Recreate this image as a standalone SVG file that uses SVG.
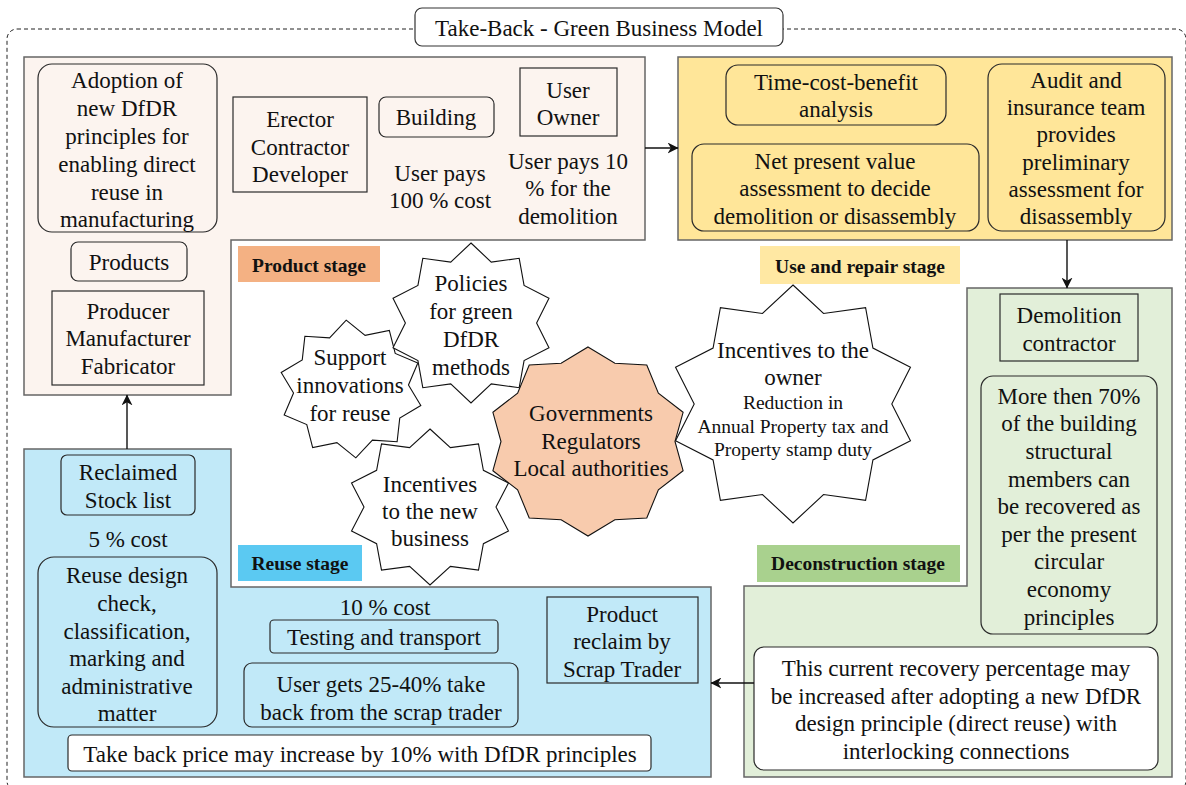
<svg xmlns="http://www.w3.org/2000/svg" width="1186" height="785" viewBox="0 0 1186 785">
  <style>
    .t { font-family: "Liberation Serif", "Times New Roman", serif; font-size: 23px; text-anchor: middle; fill: #111; }
    .s { font-family: "Liberation Serif", "Times New Roman", serif; font-size: 19.5px; text-anchor: middle; fill: #111; }
    .lbl { font-family: "Liberation Serif", "Times New Roman", serif; font-size: 19.5px; font-weight: bold; text-anchor: middle; fill: #111; }
    .stage { stroke: #666; stroke-width: 1.5; }
    .box { fill: none; stroke: #2a2a2a; stroke-width: 1.2; }
    .wbox { fill: #fff; stroke: #2a2a2a; stroke-width: 1.2; }
    .star { fill: #fff; stroke: #111; stroke-width: 1.1; }
    .conn { fill: none; stroke: #111; stroke-width: 1.4; marker-end: url(#arrow); }
  </style>
  <defs>
    <marker id="arrow" viewBox="0 0 10 10" refX="9.5" refY="5" markerWidth="11" markerHeight="11" markerUnits="userSpaceOnUse" orient="auto">
      <path d="M0,0 L10,5 L0,10 L3,5 Z" fill="#111"/>
    </marker>
  </defs>

  <rect width="1186" height="785" fill="#fff"/>

  <!-- outer dashed frame and title -->
  <rect x="7" y="29" width="1179" height="762" rx="10" fill="none" stroke="#222" stroke-width="1" stroke-dasharray="4 3"/>
  <g id="title">
    <rect x="415" y="8" width="368" height="38" rx="7" fill="#fff" stroke="#333" stroke-width="1.2"/>
    <text class="t" x="599" y="36">Take-Back - Green Business Model</text>
  </g>

  <!-- Product stage -->
  <g id="product-stage">
    <path class="stage" fill="#fcf4ef" d="M24,57 H645 V240 H231 V395 H24 Z"/>
    <rect x="238" y="246" width="142" height="36" fill="#f4b183"/>
    <text class="lbl" x="309" y="272">Product stage</text>
  </g>
  <g id="adoption">
    <rect class="box" x="38" y="64" width="179" height="168" rx="14"/>
    <text class="t"><tspan x="127" y="88">Adoption of</tspan><tspan x="127" y="116">new DfDR</tspan><tspan x="127" y="144">principles for</tspan><tspan x="127" y="172">enabling direct</tspan><tspan x="127" y="200">reuse in</tspan><tspan x="127" y="227">manufacturing</tspan></text>
  </g>
  <g id="erector">
    <rect class="box" x="233" y="97" width="134" height="95"/>
    <text class="t"><tspan x="300" y="127">Erector</tspan><tspan x="300" y="155">Contractor</tspan><tspan x="300" y="182">Developer</tspan></text>
  </g>
  <g id="building">
    <rect class="box" x="379" y="97" width="115" height="40" rx="7"/>
    <text class="t" x="436" y="125">Building</text>
    <text class="t"><tspan x="440" y="181">User pays</tspan><tspan x="440" y="208">100 % cost</tspan></text>
  </g>
  <g id="user-owner">
    <rect class="box" x="520" y="68" width="97" height="68"/>
    <text class="t"><tspan x="568" y="98">User</tspan><tspan x="568" y="125">Owner</tspan></text>
    <text class="t"><tspan x="568" y="169">User pays 10</tspan><tspan x="568" y="196">% for the</tspan><tspan x="568" y="224">demolition</tspan></text>
  </g>
  <g id="products">
    <rect class="box" x="71" y="242" width="116" height="39" rx="7"/>
    <text class="t" x="129" y="270">Products</text>
  </g>
  <g id="producer">
    <rect class="box" x="52" y="291" width="152" height="94"/>
    <text class="t"><tspan x="128" y="319">Producer</tspan><tspan x="128" y="346">Manufacturer</tspan><tspan x="128" y="374">Fabricator</tspan></text>
  </g>

  <!-- Use and repair stage -->
  <g id="use-stage">
    <rect class="stage" x="678" y="57" width="494" height="183" fill="#ffe699"/>
    <rect x="760" y="246" width="200" height="38" fill="#ffe8a3"/>
    <text class="lbl" x="860" y="273">Use and repair stage</text>
  </g>
  <g id="time-cost">
    <rect class="box" x="726" y="65" width="220" height="60" rx="12"/>
    <text class="t"><tspan x="836" y="90">Time-cost-benefit</tspan><tspan x="836" y="117">analysis</tspan></text>
  </g>
  <g id="npv">
    <rect class="box" x="692" y="144" width="287" height="87" rx="12"/>
    <text class="t"><tspan x="835" y="169">Net present value</tspan><tspan x="835" y="196">assessment to decide</tspan><tspan x="835" y="224">demolition or disassembly</tspan></text>
  </g>
  <g id="audit">
    <rect class="box" x="988" y="64" width="177" height="167" rx="14"/>
    <text class="t"><tspan x="1076" y="88">Audit and</tspan><tspan x="1076" y="115">insurance team</tspan><tspan x="1076" y="142">provides</tspan><tspan x="1076" y="170">preliminary</tspan><tspan x="1076" y="197">assessment for</tspan><tspan x="1076" y="224">disassembly</tspan></text>
  </g>

  <!-- Deconstruction stage -->
  <g id="deconstruction-stage">
    <path class="stage" fill="#e2efd9" d="M967,288 H1172 V777 H744 V586 H967 Z"/>
    <rect x="757" y="545" width="203" height="37" fill="#a9d18e"/>
    <text class="lbl" x="858" y="570">Deconstruction stage</text>
  </g>
  <g id="demolition">
    <rect class="box" x="1000" y="294" width="138" height="67"/>
    <text class="t"><tspan x="1069" y="323">Demolition</tspan><tspan x="1069" y="351">contractor</tspan></text>
  </g>
  <g id="recovery">
    <rect class="box" x="981" y="376" width="176" height="258" rx="12"/>
    <text class="t"><tspan x="1069" y="404">More then 70%</tspan><tspan x="1069" y="431">of the building</tspan><tspan x="1069" y="459">structural</tspan><tspan x="1069" y="487">members can</tspan><tspan x="1069" y="514">be recovered as</tspan><tspan x="1069" y="542">per the present</tspan><tspan x="1069" y="569">circular</tspan><tspan x="1069" y="597">economy</tspan><tspan x="1069" y="625">principles</tspan></text>
  </g>
  <g id="recovery-note">
    <rect class="wbox" x="754" y="647" width="404" height="123" rx="10"/>
    <text class="t"><tspan x="956" y="676">This current recovery percentage may</tspan><tspan x="956" y="704">be increased after adopting a new DfDR</tspan><tspan x="956" y="731">design principle (direct reuse) with</tspan><tspan x="956" y="759">interlocking connections</tspan></text>
  </g>

  <!-- Reuse stage -->
  <g id="reuse-stage">
    <path class="stage" fill="#c1e9f8" d="M24,449 H231 V587 H711 V777 H24 Z"/>
    <rect x="238" y="545" width="124" height="36" fill="#5bc9f2"/>
    <text class="lbl" x="300" y="570">Reuse stage</text>
  </g>
  <g id="stock-list">
    <rect class="box" x="61" y="455" width="134" height="60" rx="6"/>
    <text class="t"><tspan x="128" y="480">Reclaimed</tspan><tspan x="128" y="508">Stock list</tspan></text>
    <text class="t" x="128" y="547">5 % cost</text>
  </g>
  <g id="design-check">
    <rect class="box" x="38" y="557" width="179" height="170" rx="16"/>
    <text class="t"><tspan x="127" y="583">Reuse design</tspan><tspan x="127" y="611">check,</tspan><tspan x="127" y="639">classification,</tspan><tspan x="127" y="666">marking and</tspan><tspan x="127" y="694">administrative</tspan><tspan x="127" y="721">matter</tspan></text>
  </g>
  <g id="testing">
    <text class="t" x="385" y="615">10 % cost</text>
    <rect class="box" x="270" y="620" width="228" height="33" rx="4"/>
    <text class="t" x="384" y="645">Testing and transport</text>
  </g>
  <g id="take-back-share">
    <rect class="box" x="244" y="663" width="274" height="64" rx="8"/>
    <text class="t"><tspan x="381" y="692">User gets 25-40% take</tspan><tspan x="381" y="720">back from the scrap trader</tspan></text>
  </g>
  <g id="scrap-trader">
    <rect class="box" x="547" y="597" width="151" height="86"/>
    <text class="t"><tspan x="622" y="622">Product</tspan><tspan x="622" y="649">reclaim by</tspan><tspan x="622" y="677">Scrap Trader</tspan></text>
  </g>
  <g id="price-note">
    <rect class="wbox" x="68" y="735" width="583" height="36" rx="4"/>
    <text class="t" x="360" y="762">Take back price may increase by 10% with DfDR principles</text>
  </g>

  <!-- policy starbursts -->
  <g id="support-innovations">
    <polygon class="star" vector-effect="non-scaling-stroke" transform="translate(351,389) rotate(-4) scale(72,69)" points="0,-1 0.2472,-0.7609 0.5878,-0.809 0.6472,-0.4702 0.9511,-0.309 0.8,0 0.9511,0.309 0.6472,0.4702 0.5878,0.809 0.2472,0.7609 0,1 -0.2472,0.7609 -0.5878,0.809 -0.6472,0.4702 -0.9511,0.309 -0.8,0 -0.9511,-0.309 -0.6472,-0.4702 -0.5878,-0.809 -0.2472,-0.7609"/>
    <text class="t"><tspan x="350" y="365">Support</tspan><tspan x="350" y="393">innovations</tspan><tspan x="350" y="421">for reuse</tspan></text>
  </g>
  <g id="green-policies">
    <polygon class="star" vector-effect="non-scaling-stroke" transform="translate(471,323) scale(82,80)" points="0,-1 0.2472,-0.7609 0.5878,-0.809 0.6472,-0.4702 0.9511,-0.309 0.8,0 0.9511,0.309 0.6472,0.4702 0.5878,0.809 0.2472,0.7609 0,1 -0.2472,0.7609 -0.5878,0.809 -0.6472,0.4702 -0.9511,0.309 -0.8,0 -0.9511,-0.309 -0.6472,-0.4702 -0.5878,-0.809 -0.2472,-0.7609"/>
    <text class="t"><tspan x="471" y="291">Policies</tspan><tspan x="471" y="319">for green</tspan><tspan x="471" y="347">DfDR</tspan><tspan x="471" y="375">methods</tspan></text>
  </g>
  <g id="business-incentives">
    <polygon class="star" vector-effect="non-scaling-stroke" transform="translate(430,507) scale(82.5,78)" points="0,-1 0.2472,-0.7609 0.5878,-0.809 0.6472,-0.4702 0.9511,-0.309 0.8,0 0.9511,0.309 0.6472,0.4702 0.5878,0.809 0.2472,0.7609 0,1 -0.2472,0.7609 -0.5878,0.809 -0.6472,0.4702 -0.9511,0.309 -0.8,0 -0.9511,-0.309 -0.6472,-0.4702 -0.5878,-0.809 -0.2472,-0.7609"/>
    <text class="t"><tspan x="430" y="492">Incentives</tspan><tspan x="430" y="519">to the new</tspan><tspan x="430" y="546">business</tspan></text>
  </g>
  <g id="authorities">
    <polygon class="star" vector-effect="non-scaling-stroke" fill="#f8cbad" style="fill:#f8cbad" transform="translate(588,441.5) scale(100,94.5)" points="0,-1 0.2688,-0.8275 0.5878,-0.809 0.7038,-0.5114 0.9511,-0.309 0.87,0 0.9511,0.309 0.7038,0.5114 0.5878,0.809 0.2688,0.8275 0,1 -0.2688,0.8275 -0.5878,0.809 -0.7038,0.5114 -0.9511,0.309 -0.87,0 -0.9511,-0.309 -0.7038,-0.5114 -0.5878,-0.809 -0.2688,-0.8275"/>
    <text class="t"><tspan x="591" y="421">Governments</tspan><tspan x="591" y="449">Regulators</tspan><tspan x="591" y="476">Local authorities</tspan></text>
  </g>
  <g id="owner-incentives">
    <polygon class="star" vector-effect="non-scaling-stroke" transform="translate(793,404) scale(123.5,119)" points="0,-1 0.2472,-0.7609 0.5878,-0.809 0.6472,-0.4702 0.9511,-0.309 0.8,0 0.9511,0.309 0.6472,0.4702 0.5878,0.809 0.2472,0.7609 0,1 -0.2472,0.7609 -0.5878,0.809 -0.6472,0.4702 -0.9511,0.309 -0.8,0 -0.9511,-0.309 -0.6472,-0.4702 -0.5878,-0.809 -0.2472,-0.7609"/>
    <text class="t"><tspan x="793" y="358">Incentives to the</tspan><tspan x="793" y="385">owner</tspan></text>
    <text class="s"><tspan x="793" y="409">Reduction in</tspan><tspan x="793" y="433">Annual Property tax and</tspan><tspan x="793" y="456">Property stamp duty</tspan></text>
  </g>

  <!-- connectors -->
  <g id="connectors">
    <path class="conn" d="M645,148 H678"/>
    <path class="conn" d="M1067,240 V288"/>
    <path class="conn" d="M754,683 H711"/>
    <path class="conn" d="M127,449 V395"/>
  </g>
</svg>
